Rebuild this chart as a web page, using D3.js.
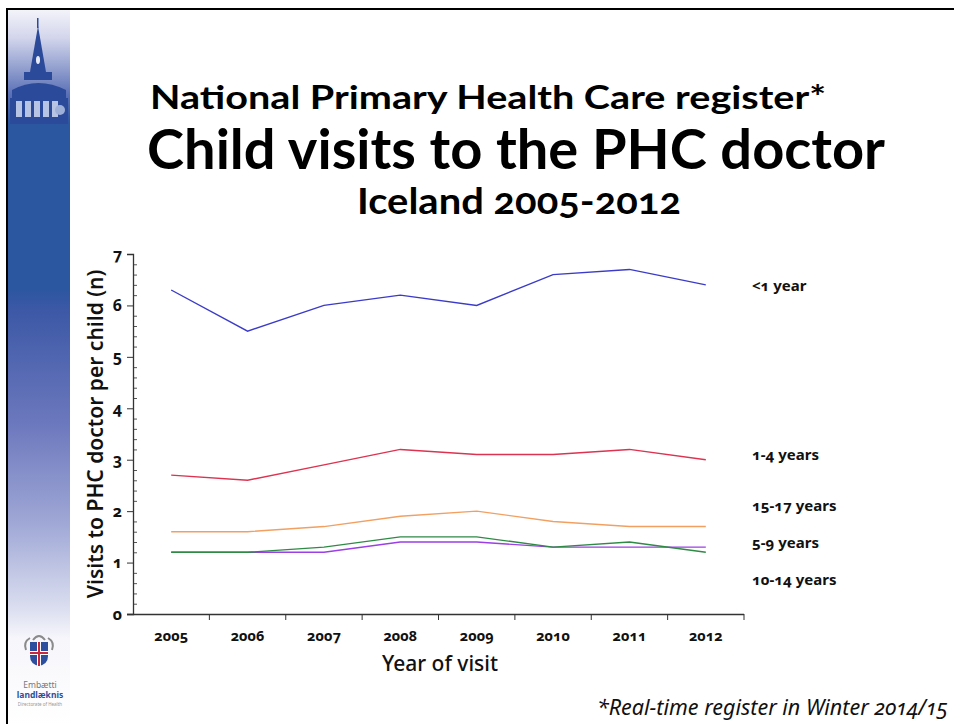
<!DOCTYPE html>
<html>
<head>
<meta charset="utf-8">
<script src="https://cdn.jsdelivr.net/npm/d3@7"></script>
<style>
  body { margin: 0; background: #fff; }
  svg { display: block; }
  text { font-family: "Noto Sans", Lato, sans-serif; font-feature-settings: "onum"; }
  .title { font-family: Lato, "Noto Sans", sans-serif; font-weight: bold; }
</style>
</head>
<body>
<script>
// data
var years = ["2005", "2006", "2007", "2008", "2009", "2010", "2011", "2012"];
var under1 = [6.3, 5.5, 6.0, 6.2, 6.0, 6.6, 6.7, 6.4];
var age1to4 = [2.7, 2.6, 2.9, 3.2, 3.1, 3.1, 3.2, 3.0];
var age5to9 = [1.2, 1.2, 1.3, 1.5, 1.5, 1.3, 1.4, 1.2];
var age10to14 = [1.2, 1.2, 1.2, 1.4, 1.4, 1.3, 1.3, 1.3];
var age15to17 = [1.6, 1.6, 1.7, 1.9, 2.0, 1.8, 1.7, 1.7];
var seriesNames = ["<1 year", "1-4 years", "5-9 years", "10-14 years", "15-17 years"];
var yTicks = [0, 1, 2, 3, 4, 5, 6, 7];

var w = 954;
var h = 724;

var series = [
    { name: seriesNames[0], values: under1, color: "#3b3bc8" },
    { name: seriesNames[1], values: age1to4, color: "#dc3350" },
    { name: seriesNames[3], values: age10to14, color: "#9b3fe6" },
    { name: seriesNames[2], values: age5to9, color: "#2f8a45" },
    { name: seriesNames[4], values: age15to17, color: "#f2a062" }
];

var svg = d3.select("body")
    .append("svg")
    .attr("width", w)
    .attr("height", h);

// ---- left side band ----
var defs = svg.append("defs");
var grad = defs.append("linearGradient")
    .attr("id", "band")
    .attr("x1", 0).attr("y1", 0).attr("x2", 0).attr("y2", 1);
grad.selectAll("stop")
    .data([
        [0.00, "#f4f4fa"], [0.04, "#d3d6ec"], [0.12, "#5a70b6"], [0.16, "#2b56a0"],
        [0.39, "#2b56a0"], [0.42, "#3c58a6"], [0.58, "#6c78bd"], [0.72, "#a0a8d6"],
        [0.84, "#dcdff0"], [0.88, "#f6f6fb"], [1.00, "#ffffff"]
    ])
    .enter()
    .append("stop")
    .attr("offset", function (d) { return d[0]; })
    .attr("stop-color", function (d) { return d[1]; });

svg.append("rect")
    .attr("x", 8).attr("y", 9)
    .attr("width", 62).attr("height", 715)
    .attr("fill", "url(#band)");

// church tower sketch
var church = svg.append("g").attr("fill", "#2c4a9a");
church.append("rect").attr("x", 37).attr("y", 18).attr("width", 1.5).attr("height", 10);
church.append("path").attr("d", "M38,26 L30,72 L46,72 Z");
church.append("ellipse").attr("cx", 38).attr("cy", 60).attr("rx", 2).attr("ry", 4).attr("fill", "#e8ecf6");
church.append("path").attr("d", "M24,72 h28 v8 h-28 Z");
church.append("path").attr("d", "M12,90 Q38,76 66,90 L66,98 L12,98 Z");
church.append("rect").attr("x", 10).attr("y", 98).attr("width", 58).attr("height", 26);
church.selectAll(".win")
    .data([16, 25, 34, 43, 52])
    .enter()
    .append("rect")
    .attr("x", function (d) { return d; })
    .attr("y", 101).attr("width", 6).attr("height", 16)
    .attr("fill", "#b7c4e3");
church.append("circle").attr("cx", 60).attr("cy", 110).attr("r", 5).attr("fill", "#9fb0d8");

// slide border
svg.append("line").attr("x1", 7).attr("x2", w).attr("y1", 9).attr("y2", 9)
    .attr("stroke", "#000").attr("stroke-width", 2);
svg.append("line").attr("x1", 7).attr("x2", 7).attr("y1", 8).attr("y2", h)
    .attr("stroke", "#000").attr("stroke-width", 2);

// ---- titles ----
svg.append("text")
    .attr("class", "title")
    .attr("x", 488).attr("y", 109)
    .attr("text-anchor", "middle")
    .attr("font-size", 33)
    .attr("textLength", 676).attr("lengthAdjust", "spacingAndGlyphs")
    .text("National Primary Health Care register*");

svg.append("text")
    .attr("class", "title")
    .attr("x", 516).attr("y", 169)
    .attr("text-anchor", "middle")
    .attr("font-size", 56)
    .attr("textLength", 738).attr("lengthAdjust", "spacingAndGlyphs")
    .text("Child visits to the PHC doctor");

svg.append("text")
    .attr("class", "title")
    .attr("x", 519).attr("y", 214)
    .attr("text-anchor", "middle")
    .attr("font-size", 37)
    .attr("textLength", 324).attr("lengthAdjust", "spacingAndGlyphs")
    .text("Iceland 2005-2012");

// ---- chart ----
var x = d3.scaleBand()
    .domain(years)
    .range([133, 744]);

var y = d3.scaleLinear()
    .domain([0, 7])
    .range([614, 254]);

// minor y ticks
svg.append("g")
    .attr("transform", "translate(133,0)")
    .call(d3.axisRight(y)
        .tickValues(d3.range(1, 35).map(function (i) { return i / 5; }).filter(function (v) { return Math.abs(v - Math.round(v)) > 0.01; }))
        .tickSize(4)
        .tickFormat(""))
    .call(function (g) { g.select(".domain").remove(); })
    .selectAll("line").attr("stroke", "#555");

var yAxis = svg.append("g")
    .attr("transform", "translate(133,0)")
    .call(d3.axisLeft(y).tickValues(yTicks).tickSize(6).tickPadding(5).tickFormat(d3.format("d")));
yAxis.select(".domain").attr("stroke", "#333").attr("stroke-width", 1.3);
yAxis.selectAll(".tick line").attr("stroke", "#333");
yAxis.selectAll("text")
    .attr("font-size", 16).attr("font-weight", "bold").attr("fill", "#111")
    .style("font-family", "\"Noto Sans\", sans-serif");

var xAxis = svg.append("g")
    .attr("transform", "translate(0,614)")
    .call(d3.axisBottom(x).tickSize(0).tickPadding(17));
xAxis.select(".domain").attr("stroke", "#333").attr("stroke-width", 1.3)
    .attr("d", "M127,0.5H" + x.range()[1]);
xAxis.selectAll("text")
    .attr("font-size", 14.5).attr("font-weight", "bold").attr("fill", "#111")
    .style("font-family", "\"Noto Sans\", sans-serif");

// ticks between the years
xAxis.selectAll(".sep")
    .data(years.slice(1).concat(["end"]))
    .enter()
    .append("line")
    .attr("class", "sep")
    .attr("x1", function (d, i) { return x.range()[0] + (i + 1) * x.step(); })
    .attr("x2", function (d, i) { return x.range()[0] + (i + 1) * x.step(); })
    .attr("y1", 0).attr("y2", 6)
    .attr("stroke", "#333");

// axis titles
svg.append("text")
    .attr("transform", "translate(103,434) rotate(-90)")
    .attr("text-anchor", "middle")
    .attr("font-size", 21).attr("font-weight", 600).attr("fill", "#111")
    .text("Visits to PHC doctor per child (n)");

svg.append("text")
    .attr("x", 440).attr("y", 671)
    .attr("text-anchor", "middle")
    .attr("font-size", 21).attr("font-weight", 500).attr("fill", "#111")
    .text("Year of visit");

// lines
var line = d3.line()
    .x(function (d, i) { return x(years[i]) + x.bandwidth() / 2; })
    .y(function (d) { return y(d); });

svg.selectAll(".series")
    .data(series)
    .enter()
    .append("path")
    .attr("class", "series")
    .attr("d", function (d) { return line(d.values); })
    .attr("fill", "none")
    .attr("stroke", function (d) { return d.color; })
    .attr("stroke-width", 1.4);

// right-hand labels
var labelY = { "<1 year": 291, "1-4 years": 460, "15-17 years": 511, "5-9 years": 548, "10-14 years": 585 };
svg.selectAll(".lab")
    .data(series)
    .enter()
    .append("text")
    .attr("class", "lab")
    .attr("x", 752)
    .attr("y", function (d) { return labelY[d.name]; })
    .attr("font-size", 15).attr("font-weight", "bold").attr("fill", "#111")
    .text(function (d) { return d.name; });

// ---- bottom-left logo ----
var logo = svg.append("g");
logo.append("path").attr("d", "M30,642 h18 v14 q0,8 -9,10 q-9,-2 -9,-10 Z").attr("fill", "#2d4f9e");
logo.append("rect").attr("x", 37).attr("y", 642).attr("width", 4).attr("height", 24).attr("fill", "#fff");
logo.append("rect").attr("x", 30).attr("y", 651).attr("width", 18).attr("height", 4).attr("fill", "#fff");
logo.append("rect").attr("x", 38).attr("y", 642).attr("width", 2).attr("height", 24).attr("fill", "#c8283a");
logo.append("rect").attr("x", 30).attr("y", 652).attr("width", 18).attr("height", 2).attr("fill", "#c8283a");
logo.append("path").attr("d", "M26,650 q-3,-8 4,-12 M52,650 q3,-8 -4,-12 M33,640 q6,-8 12,0").attr("stroke", "#8a8a8a").attr("fill", "none").attr("stroke-width", 2);
logo.append("text").attr("x", 40).attr("y", 688).attr("text-anchor", "middle")
    .attr("font-size", 8.5).attr("fill", "#777").text("Embætti");
logo.append("text").attr("x", 40).attr("y", 698).attr("text-anchor", "middle")
    .attr("font-size", 8.5).attr("font-weight", "bold").attr("fill", "#2d4f9e").text("landlæknis");
logo.append("text").attr("x", 40).attr("y", 706).attr("text-anchor", "middle")
    .attr("font-size", 4.5).attr("fill", "#999").text("Directorate of Health");

// footnote
svg.append("text")
    .attr("x", 948).attr("y", 715)
    .attr("text-anchor", "end")
    .attr("font-size", 21.5).attr("font-style", "italic").attr("fill", "#111")
    .text("*Real-time register in Winter 2014/15");
</script>
</body>
</html>
